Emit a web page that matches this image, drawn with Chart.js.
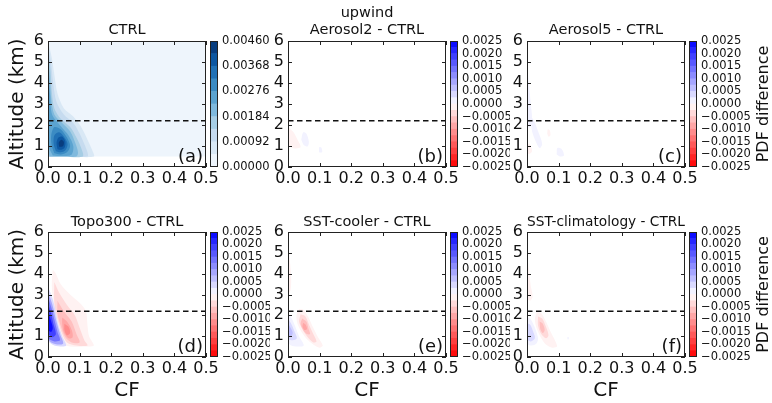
<!DOCTYPE html>
<html>
<head>
<meta charset="utf-8">
<script src="https://cdn.jsdelivr.net/npm/chart.js@4.4.0/dist/chart.umd.min.js"></script>
<style>
html, body { margin: 0; padding: 0; background: #fff; overflow: hidden; width: 772px; height: 403px; }
canvas { position: absolute; }
</style>
</head>
<body>
<script>
// ---- data ----
var panelTags = ['(a)', '(b)', '(c)', '(d)', '(e)', '(f)'];
var panelTitles = [['CTRL'], ['upwind', 'Aerosol2 - CTRL'], ['Aerosol5 - CTRL'],
                   ['Topo300 - CTRL'], ['SST-cooler - CTRL'], ['SST-climatology - CTRL']];
var cfTicks = [0, 0.1, 0.2, 0.3, 0.4, 0.5];
var altTicks = [0, 1, 2, 3, 4, 5, 6];
var splitAltitude = 2.2;
var ctrlFloor = 0.5;

var ctrlLevels = [0, 0.00046, 0.00092, 0.00138, 0.00184, 0.0023, 0.00276, 0.00322, 0.00368, 0.00414, 0.0046];
var ctrlBarTicks = [0, 0.00092, 0.00184, 0.00276, 0.00368, 0.0046];
var diffLevels = [-0.0025, -0.00225, -0.002, -0.00175, -0.0015, -0.00125, -0.001, -0.00075, -0.0005, -0.00025, 0,
                  0.00025, 0.0005, 0.00075, 0.001, 0.00125, 0.0015, 0.00175, 0.002, 0.00225, 0.0025];
var diffBarTicks = [-0.0025, -0.002, -0.0015, -0.001, -0.0005, 0, 0.0005, 0.001, 0.0015, 0.002, 0.0025];

// contour regions: [band, [[CF, altitude], ...]] listed outer to inner
var ctrlShapes = [
  [1, [[0,0.5],[0,3],[0,5.9],[0.012,5.2],[0.02,4.4],[0.03,3.5],[0.05,2.8],[0.08,2.4],[0.105,1.9],[0.125,1.3],[0.14,0.8],[0.145,0.5],[0.07,0.5]]],
  [2, [[0,0.5],[0,3],[0,5.7],[0.01,4.9],[0.017,3.9],[0.027,3.1],[0.05,2.5],[0.08,2.1],[0.1,1.6],[0.115,1.1],[0.125,0.7],[0.125,0.5],[0.06,0.5]]],
  [3, [[0,0.5],[0,3],[0,5.4],[0.008,4.6],[0.012,3.6],[0.02,2.8],[0.04,2.3],[0.07,1.9],[0.09,1.4],[0.105,0.9],[0.11,0.5],[0.05,0.5]]],
  [4, [[0.005,0.5],[0,0.9],[0,3],[0,5.0],[0.006,4.2],[0.01,3.3],[0.02,2.5],[0.045,2.1],[0.07,1.7],[0.085,1.2],[0.095,0.7],[0.09,0.5],[0.05,0.5]]],
  [5, [[0.015,0.55],[0.004,0.9],[0,1.6],[0,4.3],[0.006,3.5],[0.013,2.5],[0.04,1.95],[0.065,1.5],[0.08,1.0],[0.075,0.6],[0.05,0.52]]],
  [6, [[0.02,0.65],[0.012,1.0],[0.01,1.5],[0.02,1.9],[0.04,1.8],[0.06,1.4],[0.07,1.0],[0.06,0.7],[0.04,0.6]]],
  [7, [[0.025,0.75],[0.018,1.1],[0.02,1.5],[0.035,1.65],[0.05,1.45],[0.062,1.1],[0.055,0.8],[0.04,0.7]]],
  [8, [[0.03,0.85],[0.027,1.15],[0.033,1.4],[0.045,1.45],[0.055,1.2],[0.052,0.9],[0.042,0.82]]],
  [9, [[0.036,0.95],[0.034,1.15],[0.042,1.3],[0.05,1.2],[0.048,1.0]]]
];
// difference panels: signed level step (+ = more, - = less)
var aerosol2Shapes = [
  [-1, [[0,1.0],[0,1.85],[0.015,1.7],[0.03,1.3],[0.04,0.95],[0.025,0.88],[0.01,0.93]]],
  [1, [[0.042,1.3],[0.048,1.65],[0.058,1.6],[0.066,1.2],[0.062,0.98],[0.05,1.05]]],
  [1, [[0.098,0.7],[0.099,0.95],[0.106,0.92],[0.108,0.7]]]
];
var aerosol5Shapes = [
  [1, [[0,1.9],[0,4.8],[0.006,4.0],[0.012,3.0],[0.016,2.3],[0.01,1.9]]],
  [1, [[0.012,2.4],[0.022,2.2],[0.035,1.7],[0.048,1.1],[0.04,0.9],[0.028,1.2],[0.016,1.7]]],
  [-1, [[0.064,1.6],[0.066,1.8],[0.072,1.75],[0.074,1.5],[0.068,1.45]]],
  [-1, [[0,0.65],[0,1.1],[0.01,1.05],[0.016,0.75],[0.008,0.62]]],
  [1, [[0.094,0.6],[0.096,0.9],[0.11,0.85],[0.117,0.55],[0.105,0.5]]]
];
var topo300Shapes = [
  [-1, [[0.015,4.2],[0.025,4.0],[0.04,3.5],[0.07,3.0],[0.1,2.6],[0.12,2.2],[0.125,1.5],[0.13,1.0],[0.145,0.55],[0.12,0.5],[0.07,0.5],[0.055,0.6],[0.042,1.0],[0.03,1.6],[0.018,2.6],[0.012,3.4]]],
  [-2, [[0.02,3.6],[0.035,3.1],[0.06,2.5],[0.085,2.0],[0.1,1.4],[0.115,0.8],[0.125,0.55],[0.09,0.55],[0.06,0.7],[0.045,1.1],[0.032,1.7],[0.02,2.6]]],
  [-3, [[0.03,2.7],[0.05,2.2],[0.075,1.7],[0.09,1.1],[0.1,0.7],[0.075,0.7],[0.055,0.95],[0.04,1.5],[0.03,2.1]]],
  [-4, [[0.045,1.9],[0.06,1.7],[0.075,1.3],[0.078,0.95],[0.065,0.9],[0.05,1.2],[0.045,1.6]]],
  [-5, [[0.052,1.6],[0.065,1.45],[0.07,1.15],[0.06,1.05],[0.052,1.3]]],
  [2, [[0,0.75],[0,3.3],[0.01,3.0],[0.02,2.5],[0.032,1.6],[0.045,1.0],[0.058,0.55],[0.045,0.5],[0.02,0.55]]],
  [4, [[0,0.85],[0,3.0],[0.012,2.6],[0.025,1.8],[0.038,1.1],[0.048,0.65],[0.03,0.6],[0.01,0.7]]],
  [6, [[0,1.0],[0,2.8],[0.01,2.4],[0.02,1.8],[0.03,1.2],[0.038,0.8],[0.02,0.75],[0.005,0.85]]],
  [8, [[0,1.1],[0,2.5],[0.008,2.2],[0.017,1.6],[0.025,1.1],[0.015,0.95]]],
  [10, [[0,1.3],[0,2.2],[0.008,1.8],[0.015,1.4],[0.01,1.2]]]
];
var sstCoolerShapes = [
  [-1, [[0,3.0],[0,5.2],[0.006,4.6],[0.01,3.8],[0.008,3.2]]],
  [1, [[0,0.7],[0,2.0],[0.01,1.9],[0.022,1.5],[0.035,1.0],[0.05,0.55],[0.03,0.5],[0.01,0.55]]],
  [2, [[0,0.85],[0,1.8],[0.01,1.6],[0.02,1.25],[0.028,0.9],[0.015,0.8]]],
  [3, [[0,1.0],[0,1.6],[0.008,1.4],[0.015,1.15],[0.008,0.95]]],
  [-1, [[0.035,2.3],[0.05,2.25],[0.065,1.9],[0.08,1.4],[0.095,0.95],[0.11,0.55],[0.1,0.45],[0.08,0.6],[0.06,0.85],[0.045,1.15],[0.03,1.6],[0.027,2.0]]],
  [-2, [[0.04,2.05],[0.055,1.95],[0.068,1.5],[0.08,1.1],[0.09,0.75],[0.08,0.7],[0.06,1.0],[0.045,1.35],[0.035,1.7]]],
  [-3, [[0.045,1.85],[0.058,1.7],[0.065,1.35],[0.07,1.1],[0.06,1.1],[0.048,1.3],[0.04,1.6]]],
  [-4, [[0.048,1.65],[0.056,1.55],[0.06,1.35],[0.052,1.3],[0.046,1.45]]]
];
var sstClimShapes = [
  [-1, [[0,2.8],[0,4.9],[0.006,4.2],[0.012,3.4],[0.018,2.9],[0.01,2.7]]],
  [1, [[0,0.6],[0,1.9],[0.012,1.8],[0.025,1.4],[0.035,0.9],[0.03,0.65],[0.015,0.55]]],
  [2, [[0.002,0.8],[0,1.6],[0.01,1.55],[0.02,1.2],[0.025,0.9],[0.012,0.75]]],
  [-1, [[0.03,2.15],[0.045,2.1],[0.06,1.7],[0.075,1.2],[0.09,0.75],[0.095,0.5],[0.08,0.45],[0.06,0.6],[0.045,0.9],[0.03,1.4],[0.025,1.8]]],
  [-2, [[0.035,1.95],[0.048,1.85],[0.06,1.45],[0.068,1.05],[0.06,0.9],[0.045,1.1],[0.035,1.5]]],
  [-3, [[0.04,1.7],[0.05,1.6],[0.056,1.3],[0.05,1.15],[0.042,1.35]]],
  [1, [[0.128,0.85],[0.128,0.95],[0.132,0.95],[0.132,0.85]]]
];
var panelShapes = [ctrlShapes, aerosol2Shapes, aerosol5Shapes, topo300Shapes, sstCoolerShapes, sstClimShapes];

// ---- styling ----
var bluesPalette = ['#eef5fc', '#d9e8f5', '#c6dbef', '#a6cde4', '#7fb9dd', '#5ba3d0', '#3b8bc3', '#2171b5', '#0d57a1', '#083d7f'];
var PLOT_W = 158;
var colLeft = [48, 288, 527];
var rowTop = [41, 232];
var rowH = [126, 125];
var canvasTop = [0, 200];
var canvasBottom = [191, 403];
var INK = '#111';

Chart.defaults.font.family = '"DejaVu Sans", sans-serif';
Chart.defaults.color = INK;

function diffBandColor(i) {
  var mid = (diffLevels[i] + diffLevels[i + 1]) / 2;
  var t = Math.abs(mid) / 0.0025;
  var c = Math.round(255 * (1 - t));
  return mid > 0 ? 'rgb(' + c + ',' + c + ',255)' : 'rgb(255,' + c + ',' + c + ')';
}
function diffBand(k) { return k > 0 ? 9 + k : 10 + k; }

var framePlugin = {
  id: 'panelFrame',
  afterDatasetsDraw: function (chart, args, opts) {
    var ctx = chart.ctx, a = chart.chartArea;
    ctx.save();
    ctx.strokeStyle = '#222';
    ctx.lineWidth = 1;
    ctx.strokeRect(Math.round(a.left) + 0.5, Math.round(a.top) + 0.5,
                   Math.round(a.right - a.left) - 1, Math.round(a.bottom - a.top) - 1);
    if (opts.ticks) {
      var xs = chart.scales.x, ys = chart.scales.y;
      ctx.beginPath();
      xs.ticks.forEach(function (t) {
        var px = Math.round(xs.getPixelForValue(t.value)) + 0.5;
        ctx.moveTo(px, a.bottom); ctx.lineTo(px, a.bottom - 4);
        ctx.moveTo(px, a.top); ctx.lineTo(px, a.top + 4);
      });
      ys.ticks.forEach(function (t) {
        var py = Math.round(ys.getPixelForValue(t.value)) + 0.5;
        ctx.moveTo(a.left, py); ctx.lineTo(a.left + 4, py);
        ctx.moveTo(a.right, py); ctx.lineTo(a.right - 4, py);
      });
      ctx.stroke();
    }
    if (opts.tag) {
      ctx.font = '18px "DejaVu Sans"';
      ctx.fillStyle = INK;
      ctx.textAlign = 'right';
      ctx.textBaseline = 'alphabetic';
      ctx.fillText(opts.tag, a.right - 3, a.bottom - 5);
    }
    if (opts.sideLabel) {
      ctx.translate(chart.width - 8, (a.top + a.bottom) / 2);
      ctx.rotate(-Math.PI / 2);
      ctx.font = '16px "DejaVu Sans"';
      ctx.fillStyle = INK;
      ctx.textAlign = 'center';
      ctx.textBaseline = 'middle';
      ctx.fillText(opts.sideLabel, 0, 0);
    }
    ctx.restore();
  }
};

function addCanvas(left, top, w, h) {
  var c = document.createElement('canvas');
  c.width = w; c.height = h;
  c.style.left = left + 'px'; c.style.top = top + 'px';
  c.style.width = w + 'px'; c.style.height = h + 'px';
  document.body.appendChild(c);
  return c;
}

function shapeDataset(points, color, tension) {
  var pts = points.map(function (p) { return {x: p[0], y: p[1]}; });
  pts.push({x: points[0][0], y: points[0][1]});
  return {
    data: pts, showLine: true, fill: 'shape', backgroundColor: color,
    borderColor: 'rgba(0,0,0,0)', borderWidth: 0, pointRadius: 0, tension: tension
  };
}

function makePanel(idx) {
  var row = Math.floor(idx / 3), col = idx % 3;
  var isCtrl = idx === 0;
  var left = colLeft[col] - 48, top = canvasTop[row];
  var topH = rowTop[row] - top;
  var bottomH = canvasBottom[row] - rowTop[row] - rowH[row];
  var W = 48 + PLOT_W + 16, H = canvasBottom[row] - top;
  var titleLines = panelTitles[idx];
  var titlePad = row === 0 ? (titleLines.length > 1 ? 4.6 : 21.6) : 13.1;

  var fills = panelShapes[idx].map(function (s) {
    var color = isCtrl ? bluesPalette[s[0]] : diffBandColor(diffBand(s[0]));
    return shapeDataset(s[1], color, 0.3);
  });
  if (isCtrl) {
    fills.unshift(shapeDataset([[0, ctrlFloor], [0.5, ctrlFloor], [0.5, 6], [0, 6]], bluesPalette[0], 0));
  }
  fills.reverse();
  var datasets = [{
    data: [{x: 0, y: splitAltitude}, {x: 0.5, y: splitAltitude}],
    showLine: true, fill: false, borderColor: INK, borderWidth: 1.5, borderDash: [5.5, 3.5], pointRadius: 0
  }].concat(fills);

  new Chart(addCanvas(left, top, W, H), {
    type: 'scatter',
    data: {datasets: datasets},
    plugins: [framePlugin],
    options: {
      responsive: false, animation: false, events: [],
      layout: {padding: {left: 0, top: 0, right: 16, bottom: 0}},
      plugins: {legend: {display: false}, tooltip: {enabled: false},
                panelFrame: {ticks: true, tag: panelTags[idx]}},
      scales: {
        x: {
          type: 'linear', position: 'bottom', min: 0, max: 0.5,
          afterBuildTicks: function (s) { s.ticks = cfTicks.map(function (v) { return {value: v}; }); },
          afterFit: function (s) { s.height = bottomH; s.paddingLeft = 0; s.paddingRight = 0; },
          ticks: {callback: function (v) { return v.toFixed(1); }, font: {size: 16}, padding: 2,
                  maxRotation: 0, autoSkip: false, color: INK},
          grid: {display: false, drawTicks: false}, border: {display: false},
          title: {display: row === 1, text: 'CF', font: {size: 20}, padding: 0, color: INK}
        },
        top: {
          type: 'linear', position: 'top', min: 0, max: 0.5,
          afterFit: function (s) { s.height = topH; s.paddingLeft = 0; s.paddingRight = 0; },
          ticks: {display: false}, grid: {display: false, drawTicks: false}, border: {display: false},
          title: {display: true, text: titleLines, font: {size: 14.5}, padding: {top: titlePad, bottom: 0}, color: INK}
        },
        y: {
          type: 'linear', position: 'left', min: 0, max: 6,
          afterBuildTicks: function (s) { s.ticks = altTicks.map(function (v) { return {value: v}; }); },
          afterFit: function (s) { s.width = 48; s.paddingTop = 0; s.paddingBottom = 0; },
          ticks: {callback: function (v) { return String(v); }, font: {size: 16}, padding: 4, autoSkip: false, color: INK},
          grid: {display: false, drawTicks: false}, border: {display: false},
          title: {display: col === 0, text: 'Altitude (km)', font: {size: 20}, padding: {top: 6, bottom: 0}, color: INK}
        }
      }
    }
  });
}

function makeColorbar(idx) {
  var row = Math.floor(idx / 3), col = idx % 3;
  var isCtrl = idx === 0;
  var levels = isCtrl ? ctrlLevels : diffLevels;
  var tickVals = isCtrl ? ctrlBarTicks : diffBarTicks;
  var left = colLeft[col] + PLOT_W + 4, top = rowTop[row] - 10;
  var W = col === 2 ? 772 - left : 60, H = rowH[row] + 20;
  var axisW = W - 8;

  var datasets = [];
  for (var i = 0; i < levels.length - 1; i++) {
    datasets.push({
      data: [[levels[i], levels[i + 1]]],
      backgroundColor: isCtrl ? bluesPalette[i] : diffBandColor(i),
      borderWidth: 0, barPercentage: 1, categoryPercentage: 1, grouped: false
    });
  }

  new Chart(addCanvas(left, top, W, H), {
    type: 'bar',
    data: {labels: [''], datasets: datasets},
    plugins: [framePlugin],
    options: {
      responsive: false, animation: false, events: [],
      layout: {padding: {left: 0, right: 0, top: 10, bottom: 10}},
      plugins: {legend: {display: false}, tooltip: {enabled: false},
                panelFrame: {ticks: false, sideLabel: col === 2 ? 'PDF difference' : null}},
      scales: {
        x: {display: false},
        y: {
          type: 'linear', position: 'right', min: levels[0], max: levels[levels.length - 1],
          afterBuildTicks: function (s) { s.ticks = tickVals.map(function (v) { return {value: v}; }); },
          afterFit: function (s) { s.width = axisW; s.paddingTop = 0; s.paddingBottom = 0; },
          ticks: {
            callback: function (v) {
              if (isCtrl) return v.toFixed(5);
              return (v < 0 ? '\u2212' : '') + Math.abs(v).toFixed(4);
            },
            font: {size: 11.5}, padding: 4, autoSkip: false, color: INK
          },
          grid: {display: false, drawTicks: false}, border: {display: false}
        }
      }
    }
  });
}

for (var p = 0; p < 6; p++) {
  makePanel(p);
  makeColorbar(p);
}
</script>
</body>
</html>
